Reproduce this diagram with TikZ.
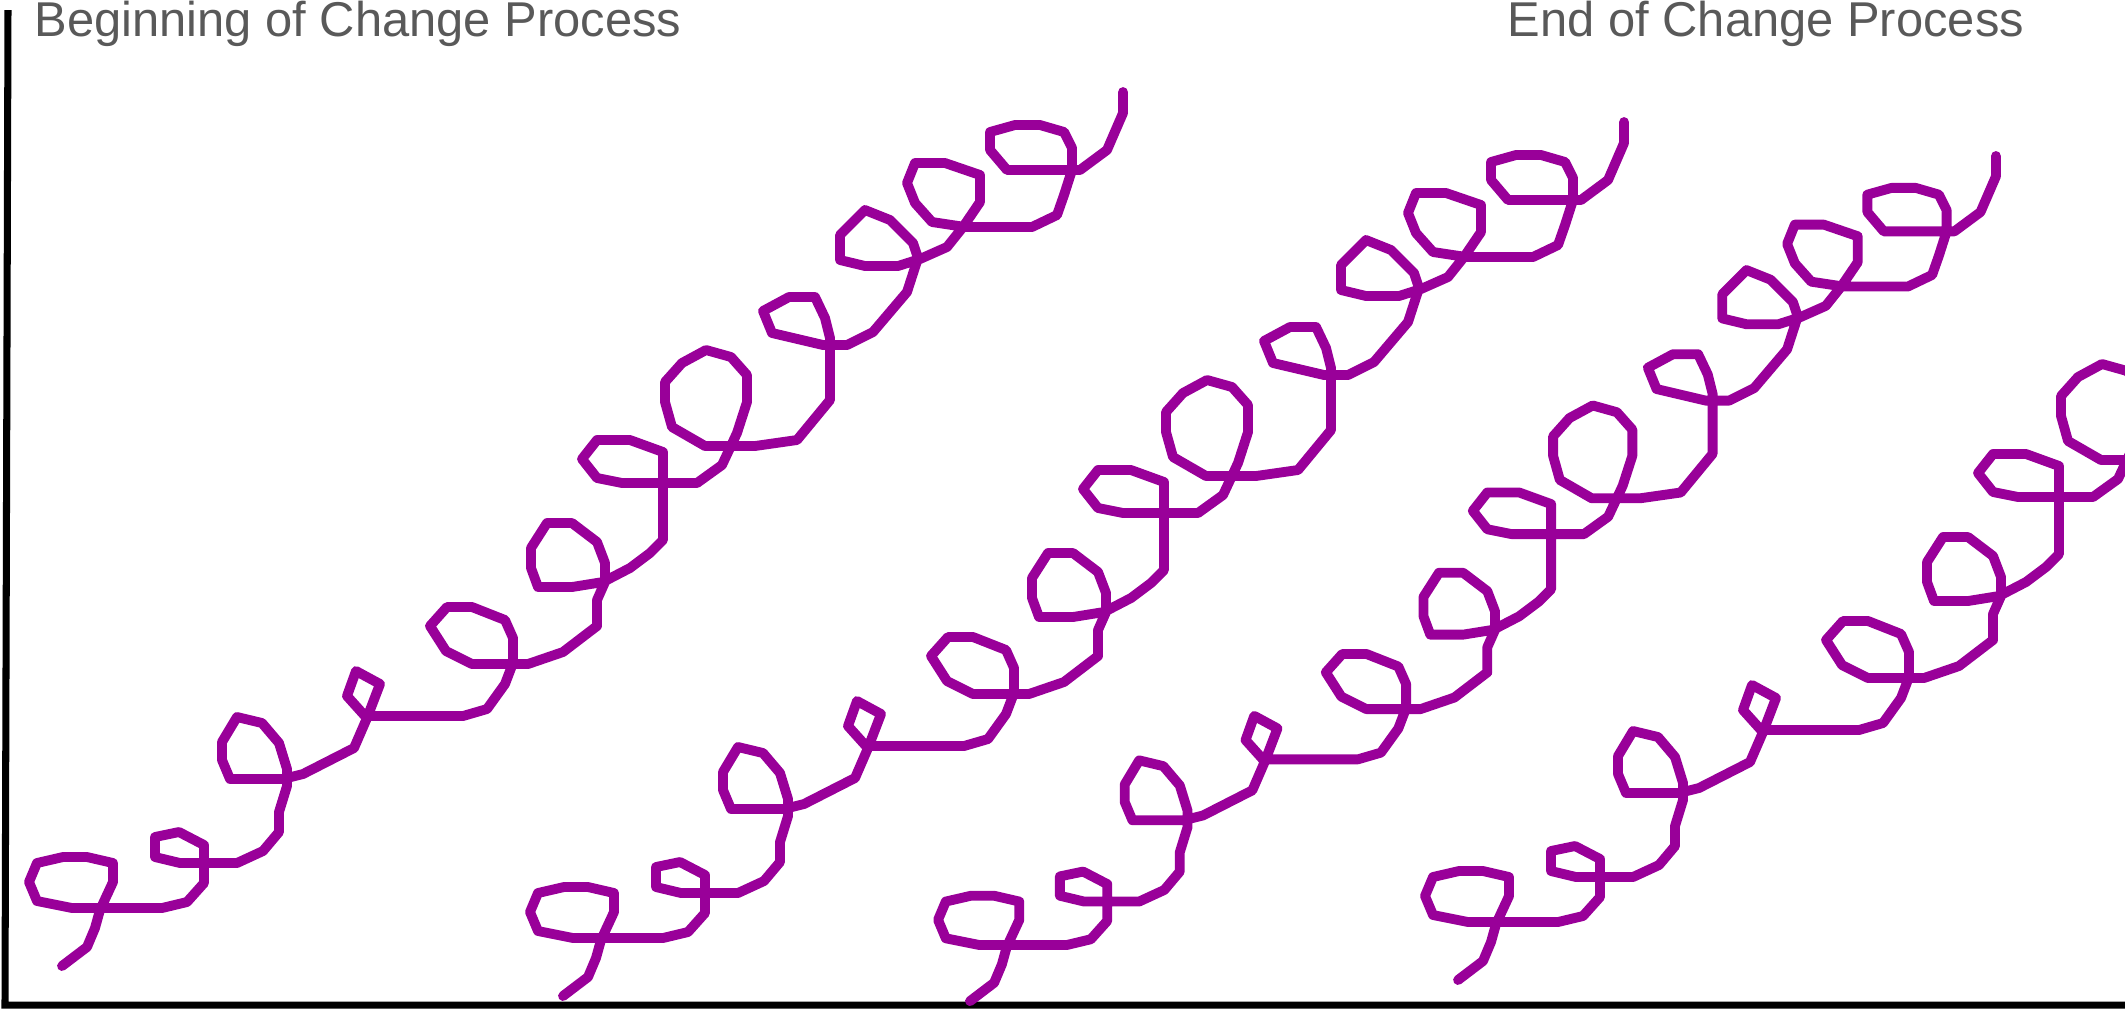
\documentclass[tikz,border=0pt]{standalone}
\usepackage{fontspec}
\setmainfont{Liberation Sans}
\usepackage{tikz}
\usepackage{xcolor}
\definecolor{cPurple}{RGB}{153,0,153}
\definecolor{cLabel}{RGB}{89,89,89}
\tikzset{
	axisline/.style={line width=2pt, draw=black, line join=miter},
	coilline/.style={line width=2.8pt, draw=cPurple, line join=round, line cap=round},
	phaselabel/.style={anchor=base west, inner sep=0pt, text=cLabel, font=\fontsize{13.9}{16}\selectfont},
	% one spiral, drawn in pixel units of the canvas
	changecoil/.pic={
		\draw[coilline] (62,966) -- (87,947) -- (95,928) -- (100,910) -- (113,882) -- (113,863) -- (87,857) -- (63,857) -- (37,863) -- (29,882) -- (37,901) -- (72,908) -- (162,908) -- (187,902) -- (204,883) -- (204,845) -- (179,832) -- (155,837) -- (155,857) -- (180,863) -- (237,863) -- (263,851) -- (279,832) -- (279,812) -- (287,786) -- (287,769) -- (279,743) -- (262,723) -- (237,717) -- (222,742) -- (222,760) -- (230,779) -- (283,779) -- (303,774) -- (354,748) -- (367,718) -- (380,684) -- (356,671) -- (347,696) -- (365,716) -- (463,716) -- (487,709) -- (505,684) -- (513,663) -- (513,638) -- (505,620) -- (472,607) -- (447,607) -- (430,626) -- (446,651) -- (472,664) -- (528,664) -- (563,652) -- (597,626) -- (597,600) -- (605,582) -- (605,563) -- (597,542) -- (572,523) -- (547,523) -- (531,548) -- (531,568) -- (538,587) -- (572,587) -- (603,582) -- (630,568) -- (650,553) -- (663,540) -- (663,452) -- (630,440) -- (597,440) -- (582,459) -- (597,478) -- (622,483) -- (697,483) -- (722,465) -- (737,433) -- (747,402) -- (747,375) -- (731,357) -- (706,350) -- (682,363) -- (665,382) -- (665,402) -- (672,427) -- (705,446) -- (755,446) -- (797,440) -- (830,400) -- (830,338) -- (825,318) -- (815,297) -- (789,297) -- (763,311) -- (772,333) -- (823,345) -- (847,345) -- (873,332) -- (907,292) -- (918,258) -- (913,243) -- (890,220) -- (865,210) -- (840,235) -- (840,260) -- (865,266) -- (898,266) -- (920,259) -- (947,247) -- (963,227) -- (980,202) -- (980,175) -- (945,163) -- (915,163) -- (907,183) -- (915,203) -- (932,222) -- (965,227) -- (1032,227) -- (1057,215) -- (1064,195) -- (1072,170) -- (1072,148) -- (1064,132) -- (1040,125) -- (1015,125) -- (990,132) -- (990,150) -- (1007,170) -- (1080,170) -- (1107,150) -- (1123,113) -- (1123,92);
	},
}

\begin{document}
\begin{tikzpicture}[x=0.01cm, y=-0.01cm]
	\useasboundingbox (0,0) rectangle (2125,1008);
	\clip (0,0) rectangle (2125,1008);
	% axes
	\coordinate (ytop) at (8,10);
	\coordinate (origin) at (5,1005);
	\coordinate (xend) at (2130,1005);
	\draw[axisline] (ytop) -- (origin) -- (xend);
	% labels
	\node[phaselabel] (begin) at (34,36) {Beginning of Change Process};
	\node[phaselabel] (end) at (1507,36) {End of Change Process};
	% spirals
	\foreach \dx/\dy/\sc in {0/0/1, 501/30/1, 910/67/0.967, 1396/14/1}
		\pic[scale=\sc] at (\dx,\dy) {changecoil};
\end{tikzpicture}
\end{document}
